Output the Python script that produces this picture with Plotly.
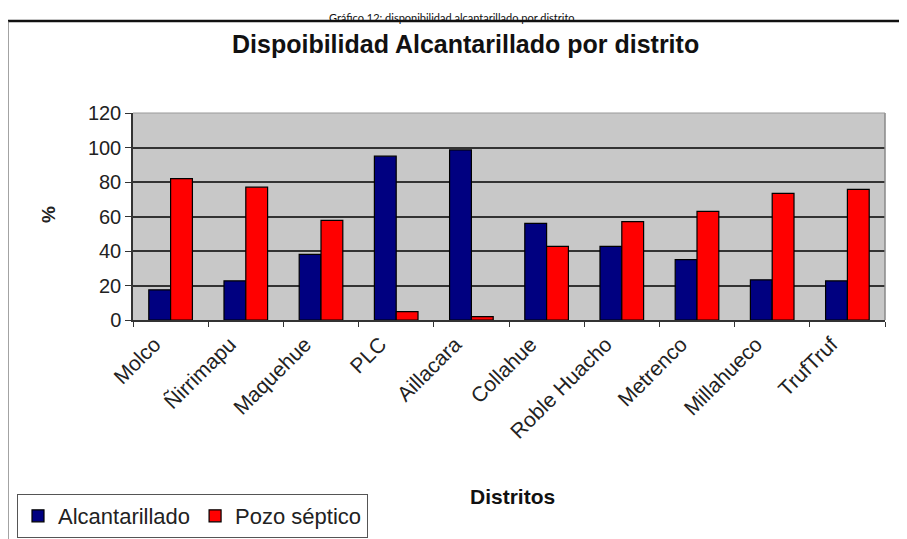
import plotly.graph_objects as go

distritos = ["Molco", "Ñirrimapu", "Maquehue", "PLC", "Aillacara", "Collahue",
             "Roble Huacho", "Metrenco", "Millahueco", "TrufTruf"]
alcantarillado = [17.5, 22.7, 38, 95, 98.6, 56, 42.7, 35, 23.3, 22.7]
pozo_septico = [82, 77, 57.7, 4.8, 2, 42.7, 57, 63, 73.4, 75.7]

OFF = 8  # page body margin
W, H = 907 - OFF, 539 - OFF
# plot area in image pixels
L, R, T, B = 133, 885, 113, 320
pw, ph = R - L, B - T

def px(x):
    return (x - L) / pw

def py(y):
    return (B - y) / ph

FONT = "Liberation Sans, Arial, sans-serif"

fig = go.Figure()
fig.add_trace(go.Bar(name="Alcantarillado", x=distritos, y=alcantarillado,
                     marker=dict(color="#000080", line=dict(color="#000000", width=1.2))))
fig.add_trace(go.Bar(name="Pozo séptico", x=distritos, y=pozo_septico,
                     marker=dict(color="#FF0000", line=dict(color="#000000", width=1.2))))

fig.update_layout(
    width=W, height=H,
    margin=dict(l=L - OFF, r=907 - R, t=T - OFF, b=539 - B, autoexpand=False),
    paper_bgcolor="white",
    plot_bgcolor="#C8C8C8",
    barmode="group", bargap=0.42, bargroupgap=0,
    font=dict(family=FONT, size=17, color="#222222"),
    showlegend=True,
    legend=dict(orientation="h", x=px(17), y=py(494), xanchor="left", yanchor="top",
                bordercolor="#555555", borderwidth=1, bgcolor="white",
                font=dict(family=FONT, size=22, color="#222222"),
                itemwidth=30, tracegroupgap=0),
    xaxis=dict(showgrid=False, tickangle=-45, ticks="outside", tickson="boundaries",
               ticklen=5, tickcolor="#333333", showline=True, linecolor="#333333",
               linewidth=1.5, tickfont=dict(family=FONT, size=21, color="#222222"),
               ticklabelshift=-16, ticklabelstandoff=2),
    yaxis=dict(range=[0, 120], dtick=20, showgrid=True, gridcolor="#333333", gridwidth=1.5,
               ticks="outside", ticklen=6, tickcolor="#333333", showline=True,
               linecolor="#333333", linewidth=1.5, zeroline=False,
               tickfont=dict(family=FONT, size=20, color="#222222")),
)

# grey border on top/right of plot area
fig.add_shape(type="line", xref="paper", yref="paper", x0=1, x1=1, y0=0, y1=1,
              line=dict(color="#888888", width=1.5))
fig.add_shape(type="line", xref="paper", yref="paper", x0=0, x1=1, y0=1, y1=1,
              line=dict(color="#999999", width=1))

# outer chart frame
FRAME_TOP = 21
fig.add_shape(type="line", xref="paper", yref="paper", x0=px(7), x1=px(910),
              y0=py(FRAME_TOP), y1=py(FRAME_TOP), line=dict(color="#111111", width=2.5))
fig.add_shape(type="line", xref="paper", yref="paper", x0=px(8), x1=px(8),
              y0=py(FRAME_TOP), y1=py(545), line=dict(color="#666666", width=1.2))

# page caption above the chart frame
fig.add_annotation(text="Gráfico 12: disponibilidad alcantarillado por distrito.",
                   xref="paper", yref="paper", x=px(453), y=py(9), xanchor="center",
                   yanchor="top", showarrow=False,
                   font=dict(family="Lato, Open Sans, sans-serif", size=11, color="#111111"))

fig.add_annotation(text="<b>Dispoibilidad Alcantarillado por distrito</b>",
                   xref="paper", yref="paper", x=px(465), y=py(44), xanchor="center",
                   yanchor="middle", showarrow=False,
                   font=dict(family=FONT, size=25, color="#111111"))
fig.add_annotation(text="<b>Distritos</b>",
                   xref="paper", yref="paper", x=px(512), y=py(496), xanchor="center",
                   yanchor="middle", showarrow=False,
                   font=dict(family=FONT, size=21, color="#111111"))
fig.add_annotation(text="<b>%</b>",
                   xref="paper", yref="paper", x=px(48), y=py(215), xanchor="center",
                   yanchor="middle", showarrow=False, textangle=-90,
                   font=dict(family=FONT, size=19, color="#222222"))

fig.write_html("out.html")
